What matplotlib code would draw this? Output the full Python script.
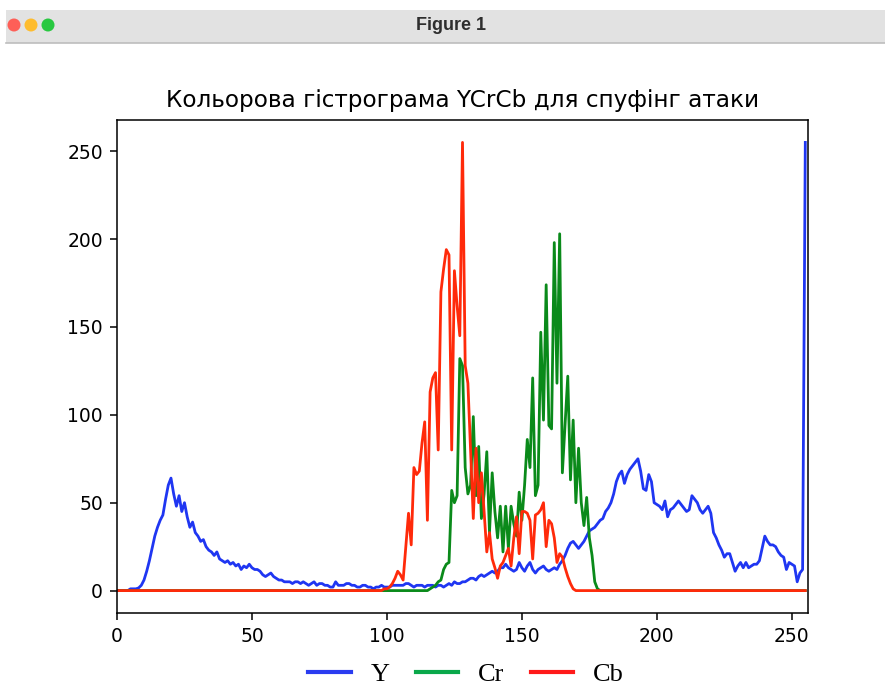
# plot.py - YCrCb colour histogram for the spoofing attack sample
import numpy as np, matplotlib
matplotlib.use("Agg")
import matplotlib.pyplot as plt
from matplotlib.patches import Rectangle, Ellipse
from matplotlib.lines import Line2D

bins = np.arange(256)

y_hist = [
    0, 0, 0, 0, 0, 1, 1, 1, 1.5, 3, 6, 11, 17, 24, 31, 36, 40, 43, 52, 60,
    64, 55, 48, 54, 45, 50, 42, 36, 39, 33, 31, 28, 29, 25, 23, 22, 20, 22, 18, 17,
    16, 17, 15, 16, 14, 15, 12, 14, 13, 15, 13, 12, 12, 11, 9, 8, 9, 10, 8, 7,
    6, 6, 5, 5, 5, 4, 5, 5, 4, 5, 4, 3, 4, 5, 3, 4, 4, 3, 3, 2,
    2, 5, 3, 3, 3, 4, 4, 3, 3, 2, 2, 3, 3, 2, 2, 1, 2, 2, 3, 2,
    2, 2, 3, 3, 3, 3, 3, 4, 4, 3, 2, 3, 3, 3, 2, 3, 3, 3, 2, 3,
    3, 2, 3, 4, 3, 5, 4, 4, 5, 5, 6, 7, 7, 6, 8, 9, 8, 9, 10, 11,
    10, 11, 13, 13, 15, 13, 12, 11, 12, 16, 13, 11, 14, 16, 12, 10, 12, 13, 14, 12,
    11, 12, 13, 12, 15, 17, 20, 24, 27, 28, 26, 24, 26, 28, 31, 34, 35, 36, 38, 40,
    41, 45, 47, 50, 55, 62, 66, 68, 61, 66, 69, 71, 73, 75, 68, 58, 57, 66, 62, 50,
    49, 48, 46, 51, 42, 46, 47, 49, 51, 49, 47, 45, 46, 54, 52, 50, 46, 44, 46, 48,
    44, 33, 30, 26, 23, 19, 21, 21, 16, 11, 14, 16, 13, 16, 13, 14, 15, 15, 17, 24,
    31, 28, 26, 26, 25, 22, 20, 19, 12, 16, 15, 14, 5, 10, 12, 255,
]

cr_hist = [
    0, 0, 0, 0, 0, 0, 0, 0, 0, 0, 0, 0, 0, 0, 0, 0, 0, 0, 0, 0,
    0, 0, 0, 0, 0, 0, 0, 0, 0, 0, 0, 0, 0, 0, 0, 0, 0, 0, 0, 0,
    0, 0, 0, 0, 0, 0, 0, 0, 0, 0, 0, 0, 0, 0, 0, 0, 0, 0, 0, 0,
    0, 0, 0, 0, 0, 0, 0, 0, 0, 0, 0, 0, 0, 0, 0, 0, 0, 0, 0, 0,
    0, 0, 0, 0, 0, 0, 0, 0, 0, 0, 0, 0, 0, 0, 0, 0, 0, 0, 0, 0,
    0, 0, 0, 0, 0, 0, 0, 0, 0, 0, 0, 0, 0, 0, 0, 0, 1, 2, 3, 5,
    6, 12, 15, 16, 57, 50, 54, 132, 128, 70, 55, 60, 99, 54, 82, 41, 55, 79, 33, 67,
    45, 30, 48, 22, 48, 24, 48, 38, 31, 56, 40, 60, 86, 70, 121, 54, 60, 147, 97, 174,
    94, 92, 198, 118, 203, 67, 95, 122, 63, 97, 50, 81, 50, 37, 53, 30, 20, 5, 1, 0,
    0, 0, 0, 0, 0, 0, 0, 0, 0, 0, 0, 0, 0, 0, 0, 0, 0, 0, 0, 0,
    0, 0, 0, 0, 0, 0, 0, 0, 0, 0, 0, 0, 0, 0, 0, 0, 0, 0, 0, 0,
    0, 0, 0, 0, 0, 0, 0, 0, 0, 0, 0, 0, 0, 0, 0, 0, 0, 0, 0, 0,
    0, 0, 0, 0, 0, 0, 0, 0, 0, 0, 0, 0, 0, 0, 0, 0,
]

cb_hist = [
    0, 0, 0, 0, 0, 0, 0, 0, 0, 0, 0, 0, 0, 0, 0, 0, 0, 0, 0, 0,
    0, 0, 0, 0, 0, 0, 0, 0, 0, 0, 0, 0, 0, 0, 0, 0, 0, 0, 0, 0,
    0, 0, 0, 0, 0, 0, 0, 0, 0, 0, 0, 0, 0, 0, 0, 0, 0, 0, 0, 0,
    0, 0, 0, 0, 0, 0, 0, 0, 0, 0, 0, 0, 0, 0, 0, 0, 0, 0, 0, 0,
    0, 0, 0, 0, 0, 0, 0, 0, 0, 0, 0, 0, 0, 0, 0, 0, 0, 0, 0, 1,
    1, 2, 4, 7, 11, 9, 6, 25, 44, 26, 70, 66, 68, 84, 96, 40, 113, 121, 124, 80,
    170, 183, 194, 191, 80, 182, 162, 145, 255, 128, 118, 79, 41, 81, 50, 67, 45, 22, 33, 18,
    13, 7, 14, 16, 20, 24, 14, 30, 42, 21, 45, 45, 44, 40, 18, 43, 44, 46, 50, 25,
    40, 38, 30, 16, 21, 19, 13, 8, 4, 1, 0, 0, 0, 0, 0, 0, 0, 0, 0, 0,
    0, 0, 0, 0, 0, 0, 0, 0, 0, 0, 0, 0, 0, 0, 0, 0, 0, 0, 0, 0,
    0, 0, 0, 0, 0, 0, 0, 0, 0, 0, 0, 0, 0, 0, 0, 0, 0, 0, 0, 0,
    0, 0, 0, 0, 0, 0, 0, 0, 0, 0, 0, 0, 0, 0, 0, 0, 0, 0, 0, 0,
    0, 0, 0, 0, 0, 0, 0, 0, 0, 0, 0, 0, 0, 0, 0, 0,
]

labels = ["Y", "Cr", "Cb"]
colors = ["#1f36f2", "#0a8a1a", "#ff2a0a"]
legend_colors = ["#2a3cf0", "#0aa84a", "#ff1a1a"]
title = "Кольорова гістрограма YCrCb для спуфінг атаки"

W, H = 885, 686
fig = plt.figure(figsize=(W / 100, H / 100), dpi=100)
fig.patch.set_facecolor("white")

# macOS window title bar
fig.add_artist(Rectangle((6 / W, 1 - 43 / H), 1, 33 / H, transform=fig.transFigure,
                         facecolor="#e2e2e2", edgecolor="none"))
fig.add_artist(Line2D([6 / W, 1], [1 - 43 / H, 1 - 43 / H], transform=fig.transFigure,
                      color="#bdbdbd", lw=1.2))
for cx, c in zip([14, 31, 48], ["#fe5f57", "#febc2e", "#28c840"]):
    fig.add_artist(Ellipse((cx / W, 1 - 25 / H), 13 / W, 13 / H, transform=fig.transFigure,
                           facecolor=c, edgecolor="none"))
fig.text(451 / W, 1 - 25 / H, "Figure 1", ha="center", va="center", fontsize=13,
         fontweight="bold", color="#2e2e2e", family="Liberation Sans")

ax = fig.add_axes([117 / W, 1 - 613 / H, 691 / W, 493 / H])
hists = [y_hist, cr_hist, cb_hist]
for h, lab, c in zip(hists, labels, colors):
    ax.plot(bins, h, color=c, lw=2.0, label=lab)
ax.set_xlim(0, 256)
ax.set_ylim(-12.75, 267.75)
ax.set_xticks([0, 50, 100, 150, 200, 250])
ax.set_yticks([0, 50, 100, 150, 200, 250])
ax.tick_params(labelsize=13.5, length=5, width=1.1, pad=5)
for s in ax.spines.values():
    s.set_linewidth(1.1)
ax.set_title(title, fontsize=16.7, pad=9)

handles = [Line2D([], [], color=c, lw=3) for c in legend_colors]
fig.legend(handles, labels, loc="center", bbox_to_anchor=(466 / W, 1 - 674 / H), ncol=3,
           frameon=False, prop={"family": "Liberation Serif", "size": 19},
           handlelength=1.6, handletextpad=0.75, columnspacing=1.0)

fig.savefig("out.png", dpi=100)
